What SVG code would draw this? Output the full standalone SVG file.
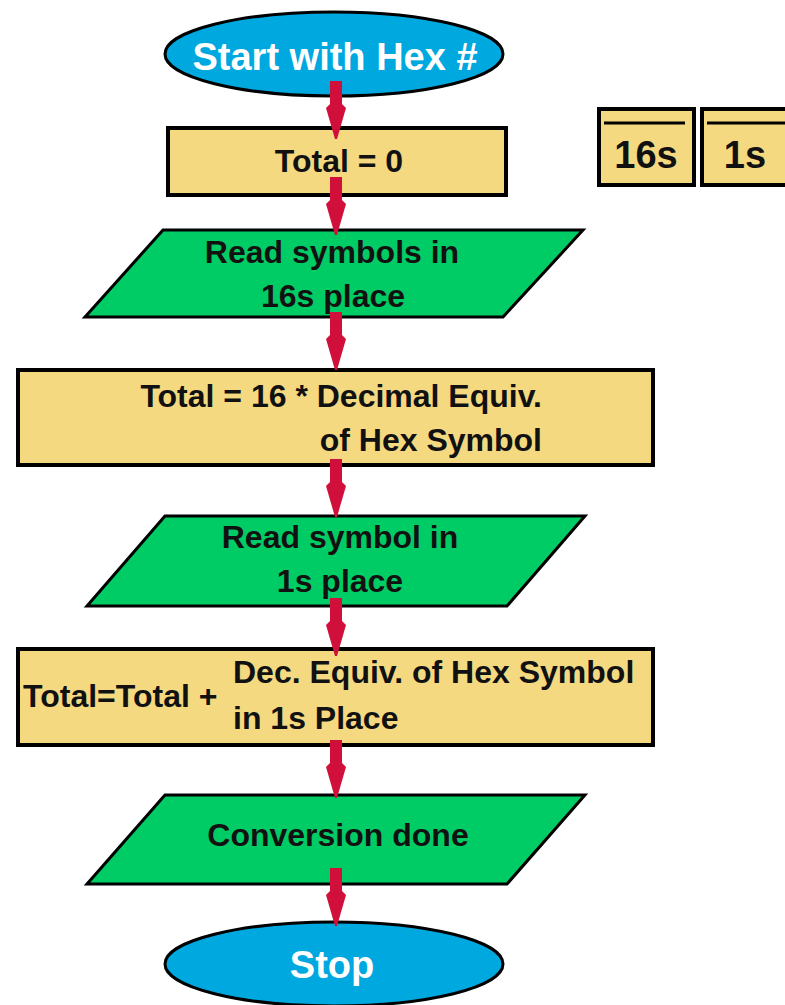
<svg xmlns="http://www.w3.org/2000/svg" xmlns:xlink="http://www.w3.org/1999/xlink" width="785" height="1005" viewBox="0 0 785 1005">
  <style>
    .term { fill: #00a8e0; stroke: #000; stroke-width: 3; }
    .proc { fill: #f4d981; stroke: #000; stroke-width: 4; }
    .io { fill: #00cc66; stroke: #000; stroke-width: 3; stroke-linejoin: miter; }
    .lbl { font-family: "Liberation Sans", Arial, sans-serif; font-weight: bold; font-size: 32px; fill: #111111; }
    .big { font-size: 38px; }
    .tlbl { font-family: "Liberation Sans", Arial, sans-serif; font-weight: bold; font-size: 38px; fill: #ffffff; }
    .arrow { fill: #d0103a; }
  </style>
  <defs>
    <!-- downward arrow: narrow shaft with small barbs, tip 58px below origin -->
    <path id="down" d="M-6,0 L6,0 L6,23 L10,27 L1,58 L-1,58 L-10,27 L-6,23 Z"/>
  </defs>

  <rect width="785" height="1005" fill="#ffffff"/>

  <g id="start">
    <ellipse class="term" cx="334" cy="54" rx="169" ry="42"/>
    <text class="tlbl" x="335" y="70" text-anchor="middle">Start with Hex #</text>
  </g>

  <g id="init">
    <rect class="proc" x="168" y="128" width="338" height="67"/>
    <text class="lbl" x="339" y="172" text-anchor="middle">Total = 0</text>
  </g>

  <g id="place-values">
    <rect class="proc" x="599" y="109" width="95" height="76"/>
    <line x1="604" y1="123" x2="685" y2="123" stroke="#000" stroke-width="3"/>
    <text class="lbl big" x="646" y="168" text-anchor="middle">16s</text>
    <rect class="proc" x="702" y="109" width="95" height="76"/>
    <line x1="707" y1="123" x2="790" y2="123" stroke="#000" stroke-width="3"/>
    <text class="lbl big" x="745" y="168" text-anchor="middle">1s</text>
  </g>

  <g id="read16">
    <polygon class="io" points="163,230 583,230 503,317 85,317"/>
    <text class="lbl" x="332" y="263" text-anchor="middle">Read symbols in</text>
    <text class="lbl" x="333" y="307" text-anchor="middle">16s place</text>
  </g>

  <g id="mult16">
    <rect class="proc" x="18" y="370" width="635" height="95"/>
    <text class="lbl" x="542" y="407" text-anchor="end">Total = 16 * Decimal Equiv.</text>
    <text class="lbl" x="542" y="451" text-anchor="end">of Hex Symbol</text>
  </g>

  <g id="read1">
    <polygon class="io" points="165,516 585,516 507,606 87,606"/>
    <text class="lbl" x="340" y="548" text-anchor="middle">Read symbol in</text>
    <text class="lbl" x="340" y="592" text-anchor="middle">1s place</text>
  </g>

  <g id="add1">
    <rect class="proc" x="18" y="649" width="635" height="96"/>
    <text class="lbl" x="23" y="707">Total=Total +</text>
    <text class="lbl" x="233" y="683">Dec. Equiv. of Hex Symbol</text>
    <text class="lbl" x="233" y="729">in 1s Place</text>
  </g>

  <g id="done">
    <polygon class="io" points="165,795 585,795 507,884 87,884"/>
    <text class="lbl" x="338" y="846" text-anchor="middle">Conversion done</text>
  </g>

  <g id="stop">
    <ellipse class="term" cx="334" cy="964" rx="169" ry="42"/>
    <text class="tlbl" x="332" y="978" text-anchor="middle">Stop</text>
  </g>

  <g id="connectors" class="arrow">
    <use xlink:href="#down" x="336" y="81"/>
    <use xlink:href="#down" x="336" y="177"/>
    <use xlink:href="#down" x="336" y="312"/>
    <use xlink:href="#down" x="336" y="459"/>
    <use xlink:href="#down" x="336" y="598"/>
    <use xlink:href="#down" x="336" y="740"/>
    <use xlink:href="#down" x="336" y="868"/>
  </g>
</svg>
